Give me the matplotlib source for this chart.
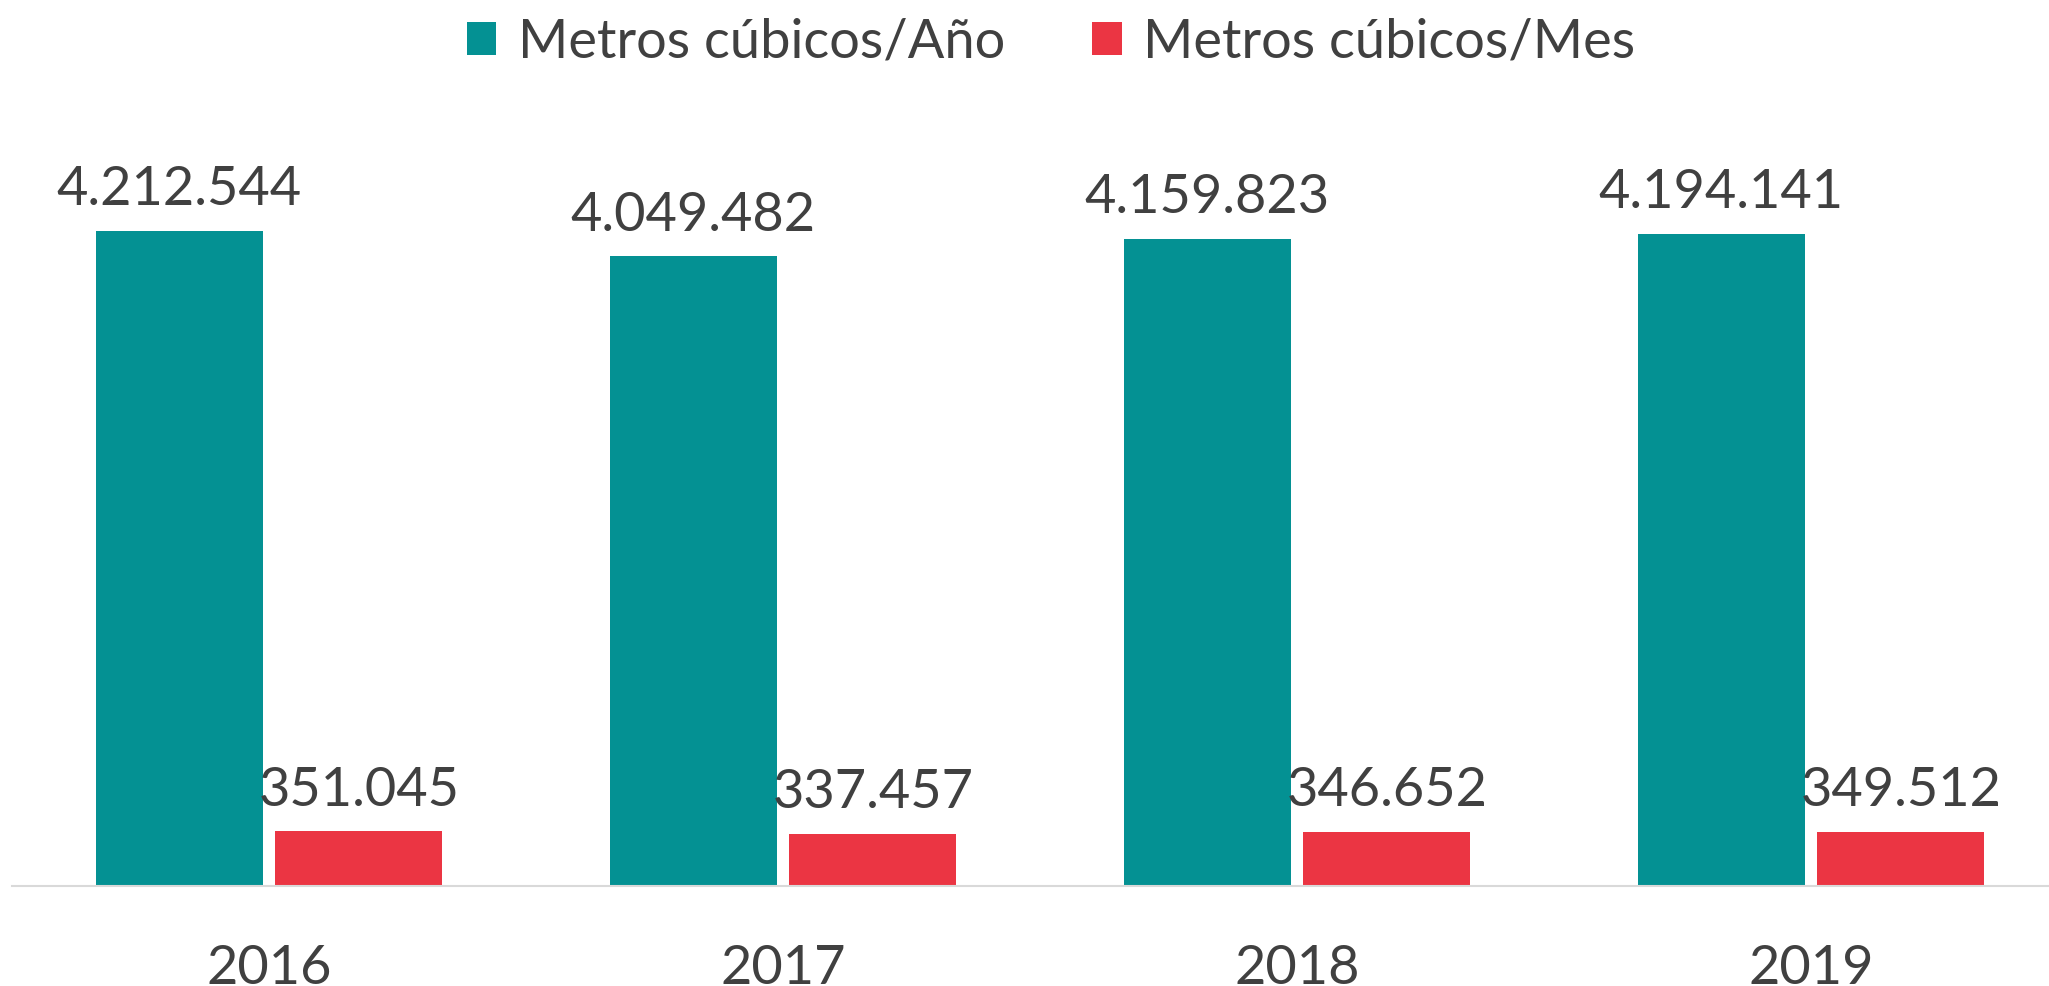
import matplotlib.pyplot as plt
import numpy as np

years = ['2016', '2017', '2018', '2019']
m3_year = [4212544, 4049482, 4159823, 4194141]
m3_month = [351045, 337457, 346652, 349512]

TEAL = '#049193'
RED = '#EB3543'
TXT = '#404040'

def fmt(v):
    return f'{v:,}'.replace(',', '.')

def main():
    plt.rcParams['font.family'] = ['Lato', 'DejaVu Sans']
    fig = plt.figure(figsize=(20.49, 9.86), dpi=100)
    ax = fig.add_axes([12 / 2049, 100 / 986, 2056 / 2049, 766 / 986])

    x = np.arange(len(years))
    w = 0.325
    off = 0.175
    b1 = ax.bar(x - off, m3_year, w, color=TEAL, label='Metros cúbicos/Año')
    b2 = ax.bar(x + off, m3_month, w, color=RED, label='Metros cúbicos/Mes')
    ax.bar_label(b1, labels=[fmt(v) for v in m3_year], padding=12, fontsize=39, color=TXT)
    ax.bar_label(b2, labels=[fmt(v) for v in m3_month], padding=12, fontsize=39, color=TXT)

    ax.set_xlim(-0.5, 3.5)
    ax.set_ylim(0, 4926000)
    ax.set_xticks(x)
    ax.set_xticklabels(years, fontsize=39, color=TXT)
    ax.tick_params(axis='x', length=0, pad=42)
    ax.set_yticks([])
    for s in ['top', 'right', 'left']:
        ax.spines[s].set_visible(False)
    ax.spines['bottom'].set_color('#D9D9D9')
    ax.spines['bottom'].set_linewidth(1.5)

    fig.legend(loc='center', bbox_to_anchor=(0.513, 1 - 42 / 986), ncol=2, frameon=False,
               fontsize=39, labelcolor=TXT, handlelength=0.55, handleheight=0.55,
               handletextpad=0.4, columnspacing=1.6)

    fig.savefig('out.png', dpi=100)

if __name__ == '__main__':
    main()
